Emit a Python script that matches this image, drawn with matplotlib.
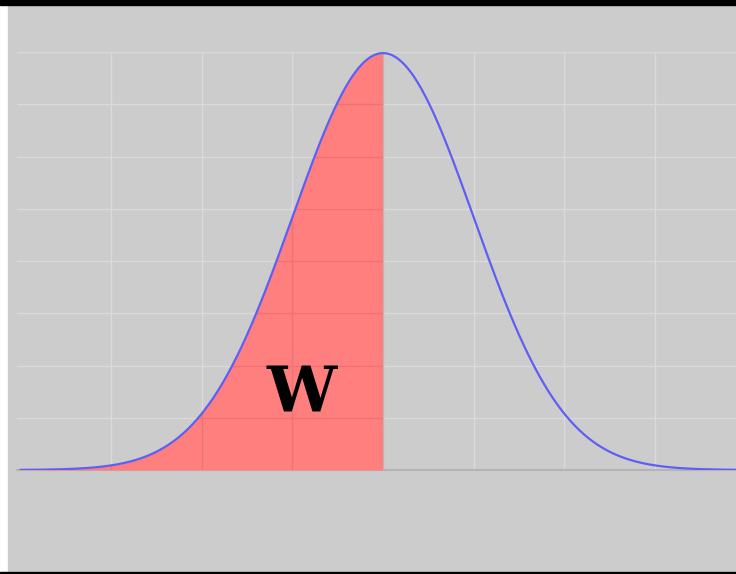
import numpy as np
import matplotlib.pyplot as plt
from matplotlib.patches import Rectangle

# standard normal curve, shaded up to the mean
mu = 0.0
sigma = 1.0
x_grid = [-3, -2, -1, 0, 1, 2, 3]
y_grid = [0.05, 0.10, 0.15, 0.20, 0.25, 0.30, 0.35, 0.40]
label = "W"

x = np.linspace(-4, 4, 801)
y = np.exp(-0.5 * ((x - mu) / sigma) ** 2) / (sigma * np.sqrt(2 * np.pi))

W, H = 736, 574
fig = plt.figure(figsize=(W / 100, H / 100), dpi=100, facecolor="white")

# gray panel and black borders
fig.patches.append(Rectangle((8 / W, 2 / H), 1 - 8 / W, 567 / H,
                             transform=fig.transFigure, color="#cccccc", zorder=-10))
fig.patches.append(Rectangle((0, 1 - 5 / H), 1, 5 / H,
                             transform=fig.transFigure, color="black", zorder=-10))
fig.patches.append(Rectangle((0, 0), 1, 2 / H,
                             transform=fig.transFigure, color="black", zorder=-10))

ax = fig.add_axes([17 / W, (H - 470) / H, 1 - 17 / W, (470 - 52) / H])
ax.set_zorder(1)
ax.set_facecolor("#cccccc")
ax.set_xlim(-4.04, 3.896)
ax.set_ylim(0, 0.4)

for gx in x_grid:
    ax.axvline(gx, color="#dadada", lw=1, zorder=1)
for gy in y_grid:
    ax.axhline(gy, color="#dadada", lw=1, zorder=1)
ax.axhline(0, color="#b4b4b4", lw=1.5, zorder=1, clip_on=False)

mask = x <= mu
poly = ax.fill_between(x[mask], 0, y[mask], color="#ff7f7f", lw=0, zorder=2)
# darker grid lines visible through the shaded area
for gx in x_grid:
    ln = ax.axvline(gx, color="#ee7272", lw=1, zorder=3)
    ln.set_clip_path(poly.get_paths()[0], ax.transData)
for gy in y_grid:
    ln = ax.axhline(gy, color="#ee7272", lw=1, zorder=3)
    ln.set_clip_path(poly.get_paths()[0], ax.transData)
ax.plot([mu, mu], [0, y.max()], color="#c8b0b0", lw=1, zorder=3)

ax.plot(x, y, color="#5f5ff5", lw=1.6, zorder=4)

ax.text(-0.9, 0.0555, label, family="DejaVu Serif", weight="bold",
        fontsize=45, ha="center", va="baseline", zorder=5)

for s in ax.spines.values():
    s.set_visible(False)
ax.set_xticks([])
ax.set_yticks([])

fig.savefig("out.png", dpi=100, facecolor=fig.get_facecolor())
